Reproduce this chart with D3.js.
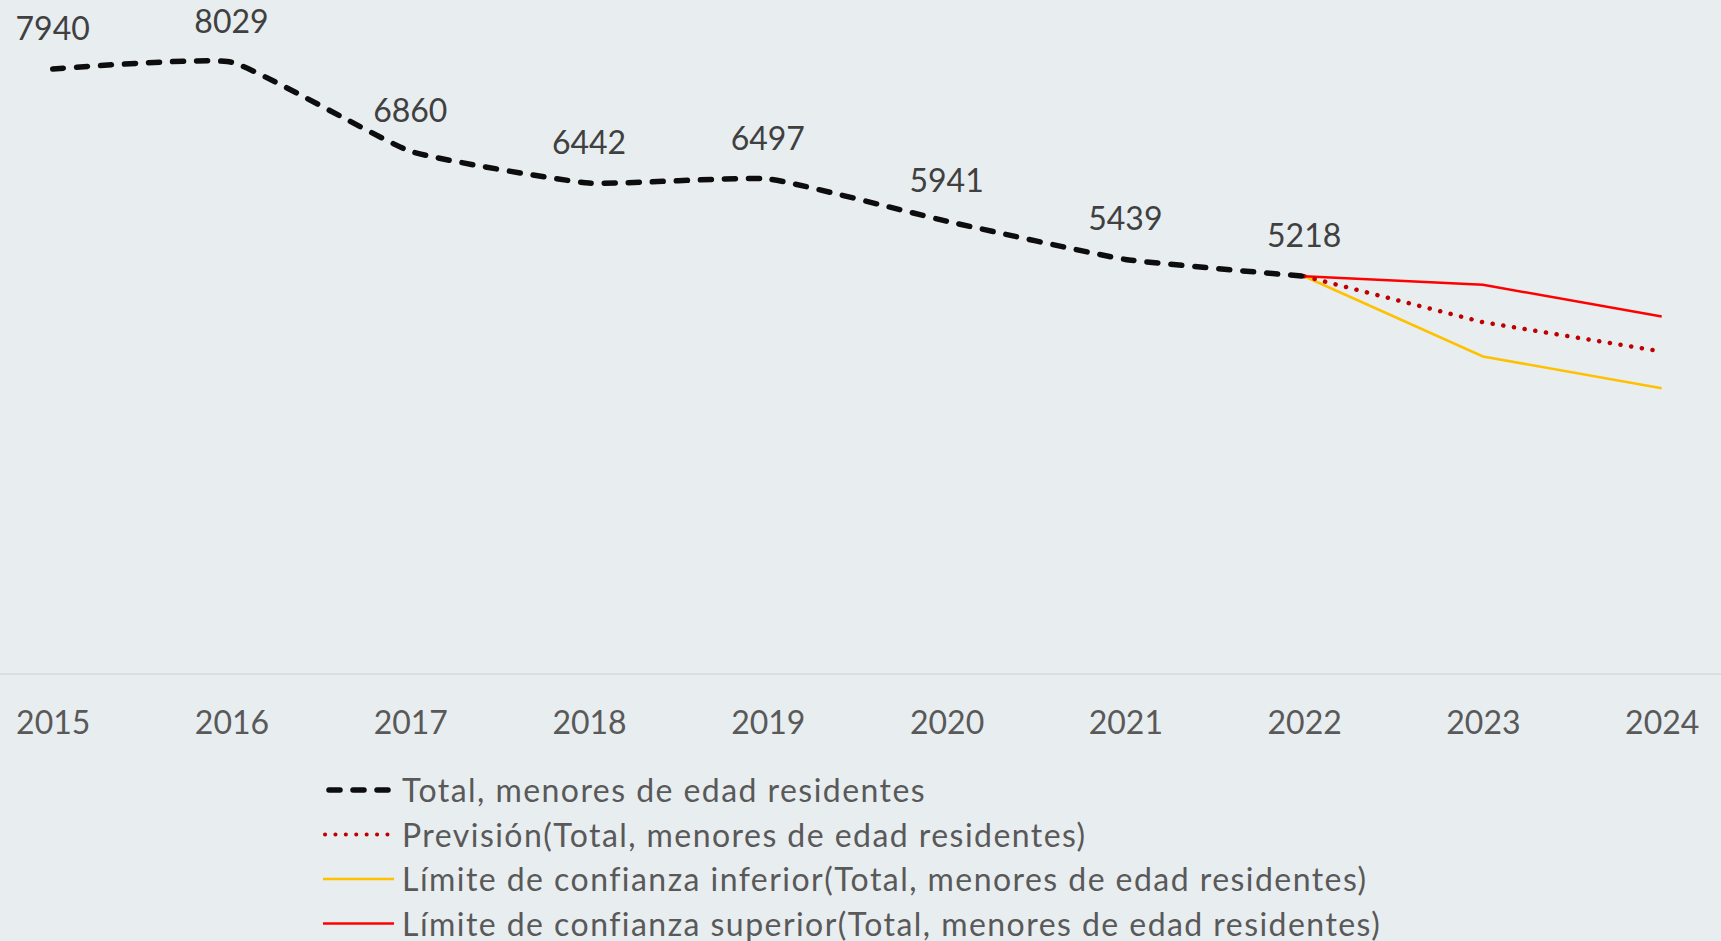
<!DOCTYPE html>
<html>
<head>
<meta charset="utf-8">
<script src="https://cdn.jsdelivr.net/npm/d3@7"></script>
<style>
  body { margin: 0; background: #e8edf0; }
  svg { display: block; font-family: Lato, "Open Sans", sans-serif; }
</style>
</head>
<body>
<div id="chart-area"></div>
<script>
// data
var years = [2015, 2016, 2017, 2018, 2019, 2020, 2021, 2022, 2023, 2024];
var totalValues = [7940, 8029, 6860, 6442, 6497, 5941, 5439, 5218];
var forecastYears = [2022, 2023, 2024];
var forecastValues = [5218, 4614, 4230];
var lowerValues = [5218, 4164, 3748];
var upperValues = [5218, 5106, 4689];
var legendLabels = [
    "Total, menores de edad residentes",
    "Previsión(Total, menores de edad residentes)",
    "Límite de confianza inferior(Total, menores de edad residentes)",
    "Límite de confianza superior(Total, menores de edad residentes)"
];

var width = 1721, height = 941;

var svg = d3.select("#chart-area")
    .append("svg")
        .attr("width", width)
        .attr("height", height);

svg.append("rect")
    .attr("width", width)
    .attr("height", height)
    .attr("fill", "#e8edf0");

// scales
var x = d3.scalePoint()
    .domain(years)
    .range([52.7, 1661.7]);

var y = d3.scaleLinear()
    .domain([0, 9000])
    .range([673.5, -11.7]);

// base line
svg.append("line")
    .attr("x1", 0)
    .attr("x2", width)
    .attr("y1", y(0) + 0.5)
    .attr("y2", y(0) + 0.5)
    .attr("stroke", "#d9d9d9")
    .attr("stroke-width", 1.5);

// x axis
var xAxisCall = d3.axisBottom(x)
    .tickSize(0)
    .tickPadding(0);

var xAxisGroup = svg.append("g")
    .attr("class", "x axis")
    .attr("transform", "translate(0," + y(0) + ")")
    .call(xAxisCall);
xAxisGroup.select(".domain").remove();
xAxisGroup.selectAll("text")
    .attr("y", 60)
    .attr("dy", null)
    .attr("font-size", "32px")
    .attr("font-family", "Lato, 'Open Sans', sans-serif")
    .attr("fill", "#595959");

// lines
var smoothLine = d3.line()
    .x(function(d){ return x(d.year); })
    .y(function(d){ return y(d.value); })
    .curve(d3.curveCardinal.tension(0.6));

var straightLine = d3.line()
    .x(function(d){ return x(d.year); })
    .y(function(d){ return y(d.value); });

function pairs(ys, vs){
    return ys.map(function(yr, i){ return { year: yr, value: vs[i] }; });
}

var totalData = pairs(years.slice(0, totalValues.length), totalValues);

var series = [
    { data: pairs(forecastYears, lowerValues), color: "#ffc000", width: 2.5, dash: null, cap: "butt", gen: straightLine },
    { data: pairs(forecastYears, upperValues), color: "#ff0000", width: 2.5, dash: null, cap: "butt", gen: straightLine },
    { data: pairs(forecastYears, forecastValues), color: "#c00000", width: 4.5, dash: "0.1,10.7", cap: "round", gen: straightLine },
    { data: totalData, color: "#0d0d0d", width: 5.5, dash: "11,13", cap: "round", gen: smoothLine }
];

series.forEach(function(s){
    svg.append("path")
        .attr("d", s.gen(s.data))
        .attr("fill", "none")
        .attr("stroke", s.color)
        .attr("stroke-width", s.width)
        .attr("stroke-linecap", s.cap)
        .attr("stroke-dasharray", s.dash);
});

// value labels
svg.selectAll(".value-label")
    .data(totalData)
    .enter()
    .append("text")
        .attr("class", "value-label")
        .attr("x", function(d){ return x(d.year); })
        .attr("y", function(d){ return y(d.value) - 29; })
        .attr("text-anchor", "middle")
        .attr("font-size", "32px")
        .attr("fill", "#404040")
        .text(function(d){ return d.value; });

// legend
var legendStyles = [
    { color: "#0d0d0d", width: 5.5, dash: "11,13", cap: "round", x1: 329, x2: 390 },
    { color: "#c00000", width: 4, dash: "0.1,10.3", cap: "round", x1: 325, x2: 393 },
    { color: "#ffc000", width: 2.5, dash: null, cap: "butt", x1: 323, x2: 394 },
    { color: "#ff0000", width: 2.5, dash: null, cap: "butt", x1: 323, x2: 394 }
];

var legend = svg.selectAll(".legend-item")
    .data(legendLabels)
    .enter()
    .append("g")
        .attr("class", "legend-item")
        .attr("transform", function(d, i){ return "translate(0," + (790 + i * 44.5) + ")"; });

legend.append("line")
    .attr("x1", function(d, i){ return legendStyles[i].x1; })
    .attr("x2", function(d, i){ return legendStyles[i].x2; })
    .attr("stroke", function(d, i){ return legendStyles[i].color; })
    .attr("stroke-width", function(d, i){ return legendStyles[i].width; })
    .attr("stroke-linecap", function(d, i){ return legendStyles[i].cap; })
    .attr("stroke-dasharray", function(d, i){ return legendStyles[i].dash; });

legend.append("text")
    .attr("x", 402)
    .attr("y", 12)
    .attr("font-size", "32px")
    .attr("letter-spacing", "1.45px")
    .attr("fill", "#595959")
    .text(function(d){ return d; });
</script>
</body>
</html>
